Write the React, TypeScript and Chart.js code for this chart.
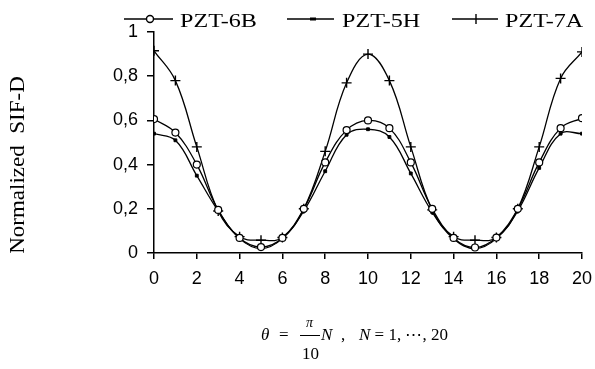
import React, { useEffect, useRef } from 'react';
import { Chart, registerables } from 'chart.js';

Chart.register(...registerables);

const nValues = [0, 1, 2, 3, 4, 5, 6, 7, 8, 9, 10, 11, 12, 13, 14, 15, 16, 17, 18, 19, 20];
const pzt6B = [0.606, 0.545, 0.4, 0.195, 0.068, 0.027, 0.068, 0.2, 0.41, 0.556, 0.6, 0.565, 0.41, 0.2, 0.068, 0.025, 0.07, 0.2, 0.41, 0.565, 0.61];
const pzt5H = [0.54, 0.51, 0.35, 0.19, 0.065, 0.02, 0.065, 0.19, 0.37, 0.535, 0.56, 0.525, 0.36, 0.185, 0.065, 0.02, 0.065, 0.19, 0.385, 0.54, 0.54];
const pzt7A = [0.915, 0.78, 0.48, 0.19, 0.074, 0.058, 0.07, 0.2, 0.46, 0.77, 0.9, 0.78, 0.48, 0.195, 0.074, 0.058, 0.07, 0.2, 0.48, 0.79, 0.91];
const seriesLabels = ['PZT-6B', 'PZT-5H', 'PZT-7A'];
const yTitle = 'Normalized  SIF-D';

const toPoints = (vals: number[]) => vals.map((v, i) => ({ x: nValues[i], y: v }));

const SERIF = '"Liberation Serif", "Times New Roman", serif';
const SANS = '"Liberation Sans", Arial, sans-serif';

const decorPlugin = {
  id: 'customDecor',
  afterDraw(chart: any) {
    const ctx = chart.ctx as CanvasRenderingContext2D;
    ctx.save();
    const items = [
      { x0: 124, x1: 173, mx: 150, tx: 180, style: 'circle' },
      { x0: 287, x1: 334, mx: 313, tx: 342, style: 'rect' },
      { x0: 452, x1: 498, mx: 476, tx: 505, style: 'cross' },
    ];
    const ly = 19;
    items.forEach((it, i) => {
      ctx.strokeStyle = '#000';
      ctx.lineWidth = 1.4;
      ctx.beginPath();
      ctx.moveTo(it.x0, ly);
      ctx.lineTo(it.x1, ly);
      ctx.stroke();
      if (it.style === 'circle') {
        ctx.beginPath();
        ctx.arc(it.mx, ly, 3.5, 0, Math.PI * 2);
        ctx.fillStyle = '#fff';
        ctx.fill();
        ctx.stroke();
      } else if (it.style === 'rect') {
        ctx.fillStyle = '#000';
        ctx.fillRect(it.mx - 3, ly - 1.5, 6, 3);
      } else {
        ctx.beginPath();
        ctx.moveTo(it.mx, ly - 5);
        ctx.lineTo(it.mx, ly + 5);
        ctx.stroke();
      }
      ctx.save();
      ctx.fillStyle = '#000';
      ctx.font = `19px ${SERIF}`;
      ctx.textBaseline = 'middle';
      ctx.textAlign = 'left';
      ctx.translate(it.tx, 22);
      ctx.scale(1.27, 1);
      ctx.fillText(seriesLabels[i], 0, 0);
      ctx.restore();
    });
    ctx.translate(19, 165);
    ctx.rotate(-Math.PI / 2);
    ctx.scale(1.15, 1);
    ctx.font = `20px ${SERIF}`;
    ctx.textAlign = 'center';
    ctx.textBaseline = 'middle';
    ctx.fillStyle = '#000';
    ctx.fillText(yTitle, 0, 0);
    ctx.restore();
  },
};

export default function App() {
  const ref = useRef<HTMLCanvasElement>(null);
  useEffect(() => {
    if (!ref.current) return;
    const tickFont = { family: SANS, size: 18 };
    const chart = new Chart(ref.current, {
      type: 'line',
      data: {
        datasets: [
          {
            label: seriesLabels[0],
            data: toPoints(pzt6B),
            borderColor: '#000',
            borderWidth: 1.3,
            tension: 0.4,
            pointStyle: 'circle',
            pointRadius: 3.5,
            pointBackgroundColor: '#fff',
            pointBorderColor: '#000',
            pointBorderWidth: 1.2,
          },
          {
            label: seriesLabels[1],
            data: toPoints(pzt5H),
            borderColor: '#000',
            borderWidth: 1.3,
            tension: 0.4,
            pointStyle: 'rect',
            pointRadius: 2,
            pointBackgroundColor: '#000',
            pointBorderColor: '#000',
            pointBorderWidth: 1,
          },
          {
            label: seriesLabels[2],
            data: toPoints(pzt7A),
            borderColor: '#000',
            borderWidth: 1.3,
            tension: 0.4,
            pointStyle: 'cross',
            pointRadius: 5,
            pointBorderColor: '#000',
            pointBorderWidth: 1.4,
          },
        ],
      },
      options: {
        animation: false,
        responsive: false,
        devicePixelRatio: 1,
        layout: { padding: { top: 32, right: 13, left: 0, bottom: 0 } },
        plugins: { legend: { display: false }, tooltip: { enabled: false }, title: { display: false } },
        scales: {
          x: {
            type: 'linear',
            min: 0,
            max: 20,
            ticks: {
              stepSize: 2,
              color: '#000',
              font: tickFont,
              padding: 9,
              maxRotation: 0,
              autoSkip: false,
            },
            grid: { display: true, drawOnChartArea: false, drawTicks: true, tickLength: 6, color: '#000', lineWidth: 1.5 },
            border: { display: true, color: '#000', width: 1.5 },
            afterFit: (s: any) => {
              s.height = 116;
              s.paddingLeft = 0;
              s.paddingRight = 0;
            },
          },
          y: {
            type: 'linear',
            min: 0,
            max: 1,
            ticks: {
              stepSize: 0.2,
              color: '#000',
              font: tickFont,
              padding: 9,
              callback: (v: any) => {
                const n = Number(v);
                if (n === 0 || n === 1) return String(n);
                return n.toFixed(1).replace('.', ',');
              },
            },
            grid: { display: true, drawOnChartArea: false, drawTicks: true, tickLength: 7, color: '#000', lineWidth: 1.5 },
            border: { display: true, color: '#000', width: 1.5 },
            afterFit: (s: any) => {
              s.width = 154;
              s.paddingTop = 0;
              s.paddingBottom = 0;
            },
          },
        },
      },
      plugins: [decorPlugin],
    });
    return () => chart.destroy();
  }, []);

  const base: React.CSSProperties = { position: 'absolute', fontSize: 17, lineHeight: '20px', whiteSpace: 'pre' };
  return (
    <div style={{ position: 'fixed', left: 0, top: 0, width: 595, height: 369, background: '#fff' }}>
      <canvas ref={ref} width={595} height={369} style={{ display: 'block' }} />
      <div style={{ position: 'absolute', left: 0, top: 0, width: 595, height: 369, fontFamily: SERIF, color: '#000', pointerEvents: 'none' }}>
        <span style={{ ...base, left: 261, top: 325, fontStyle: 'italic' }}>θ</span>
        <span style={{ ...base, left: 279, top: 325 }}>=</span>
        <span style={{ ...base, left: 306, top: 313, fontSize: 14, fontStyle: 'italic' }}>π</span>
        <div style={{ position: 'absolute', left: 300, top: 335, width: 20, height: 1, background: '#000' }} />
        <span style={{ ...base, left: 302, top: 344 }}>10</span>
        <span style={{ ...base, left: 321, top: 325, fontStyle: 'italic' }}>N</span>
        <span style={{ ...base, left: 341, top: 325 }}>,</span>
        <span style={{ ...base, left: 359, top: 325 }}>
          <i>N</i> = 1, ⋯, 20
        </span>
      </div>
    </div>
  );
}
